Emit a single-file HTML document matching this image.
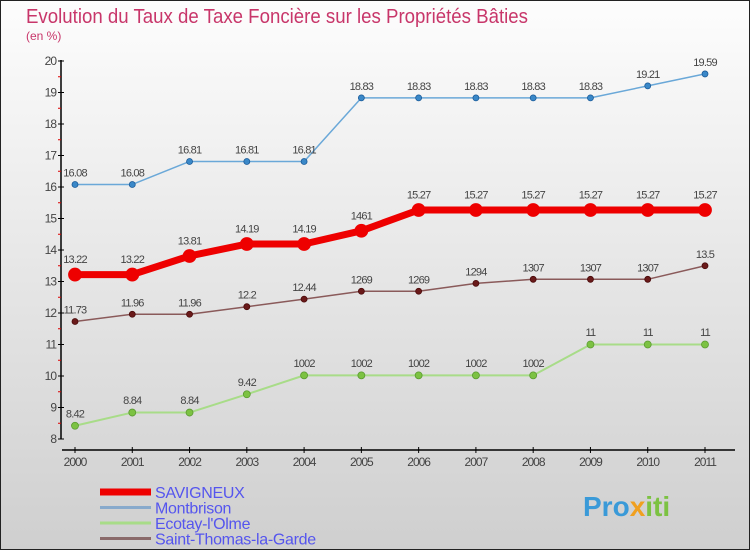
<!DOCTYPE html>
<html><head><meta charset="utf-8"><style>
body{margin:0}
svg{display:block;font-family:"Liberation Sans",sans-serif}
</style></head><body>
<svg width="750" height="550" viewBox="0 0 750 550" id="c">
<defs><linearGradient id="bg" x1="0" y1="0" x2="0" y2="1"><stop offset="0" stop-color="#fdfdfd"/><stop offset="1" stop-color="#cfcfcf"/></linearGradient></defs>
<rect x="0.5" y="0.5" width="749" height="549" fill="url(#bg)" stroke="#222"/>
<text x="26" y="23" font-size="20" fill="#c8366a" textLength="502" lengthAdjust="spacingAndGlyphs">Evolution du Taux de Taxe Foncière sur les Propriétés Bâties</text>
<text x="26" y="40" font-size="12" fill="#c8366a">(en %)</text>
<g id="axes"></g><g id="series"></g><g id="legend"></g>
<text x="583" y="516" font-size="28" font-weight="bold" fill="#3a9ad8">Pro<tspan fill="#f0a020">x</tspan><tspan fill="#7cc242">iti</tspan></text>
</svg>
<script>
const years=["2000","2001","2002","2003","2004","2005","2006","2007","2008","2009","2010","2011"];
const yTicks=[8,9,10,11,12,13,14,15,16,17,18,19,20];
const savigneux=[13.22,13.22,13.81,14.19,14.19,14.61,15.27,15.27,15.27,15.27,15.27,15.27];
const montbrison=[16.08,16.08,16.81,16.81,16.81,18.83,18.83,18.83,18.83,18.83,19.21,19.59];
const ecotay=[8.42,8.84,8.84,9.42,10.02,10.02,10.02,10.02,10.02,11,11,11];
const stThomas=[11.73,11.96,11.96,12.2,12.44,12.69,12.69,12.94,13.07,13.07,13.07,13.5];
const seriesNames=["SAVIGNEUX","Montbrison","Ecotay-l'Olme","Saint-Thomas-la-Garde"];
const NS="http://www.w3.org/2000/svg";
const xS=i=>75+i*(630/11);
const yS=v=>439-(v-8)*31.5;
function mk(t,a,p){const e=document.createElementNS(NS,t);for(const k in a)e.setAttribute(k,a[k]);p.appendChild(e);return e;}
const ax=document.getElementById('axes');
let yl=mk('line',{x1:61,y1:60,x2:61,y2:439,stroke:'#000','stroke-width':1.5},ax);


yTicks.forEach(v=>{
 mk('line',{x1:58,x2:64,y1:yS(v),y2:yS(v),stroke:'#000'},ax);
 if(v<20)mk('line',{x1:58,x2:61,y1:yS(v+0.5),y2:yS(v+0.5),stroke:'#d00'},ax);
 const t=mk('text',{x:56,y:yS(v)+4,'font-size':12,fill:'#444','text-anchor':'end','letter-spacing':'-1'},ax);
 t.textContent=v;
 
 
});
let xl=mk('line',{x1:62,y1:450,x2:735,y2:450,stroke:'#000','stroke-width':1.5},ax);


years.forEach((y,i)=>{
 mk('line',{x1:xS(i),x2:xS(i),y1:447,y2:453,stroke:'#000'},ax);
 const t=mk('text',{x:xS(i),y:466,'font-size':12,fill:'#444','text-anchor':'middle','letter-spacing':'-1'},ax);
 t.textContent=y;
 
 
});
const sg=document.getElementById('series');
const defs=[
 {d:ecotay,line:'#a8dc88',w:2,dot:'#7cc242',ds:'#5a9a30',r:3.5,name:'series-ecotay'},
 {d:stThomas,line:'#8a5a5a',w:1.5,dot:'#6a1a1a',ds:'#4a0a0a',r:3,name:'series-saint-thomas'},
 {d:montbrison,line:'#6aa8d8',w:1.5,dot:'#3a88c8',ds:'#1a5a98',r:3,name:'series-montbrison'},
 {d:savigneux,line:'#ee0000',w:7,dot:'#ee0000',ds:'#ee0000',r:6.5,name:'series-savigneux'}
];
defs.forEach(s=>{
 const g=mk('g',{},sg);
 
 
 mk('polyline',{points:s.d.map((v,i)=>xS(i)+','+yS(v)).join(' '),fill:'none',stroke:s.line,'stroke-width':s.w,'stroke-linejoin':'round'},g);
 s.d.forEach((v,i)=>{
  const c=mk('circle',{cx:xS(i),cy:yS(v),r:s.r,fill:s.dot,stroke:s.ds,'stroke-width':0.8},g);
  
  
  const t=mk('text',{x:xS(i),y:yS(v)-(s.r+5),'font-size':11,fill:'#444','text-anchor':'middle','letter-spacing':'-0.8'},g);
  t.textContent=String(v).replace('.',(s.d===ecotay&&v>=10)||(s.d===stThomas&&v>=12.5&&v<13.1)||(s.d===savigneux&&v>14.5&&v<15)?'':'.');
  
  
 });
});
const lg=document.getElementById('legend');
const lc=[['#ee0000',7],['#88aacc',3],['#a8dc88',3],['#8a6a6a',3]];
seriesNames.forEach((n,i)=>{
 const y=492+i*15.5;
 const g=mk('g',{},lg);
 
 
 mk('line',{x1:100,x2:151,y1:y,y2:y,stroke:lc[i][0],'stroke-width':lc[i][1]},g);
 const t=mk('text',{x:155,y:y+6,'font-size':16,fill:'#5555ee','letter-spacing':'-0.3'},g);
 t.textContent=n;
});
</script>
</body></html>
